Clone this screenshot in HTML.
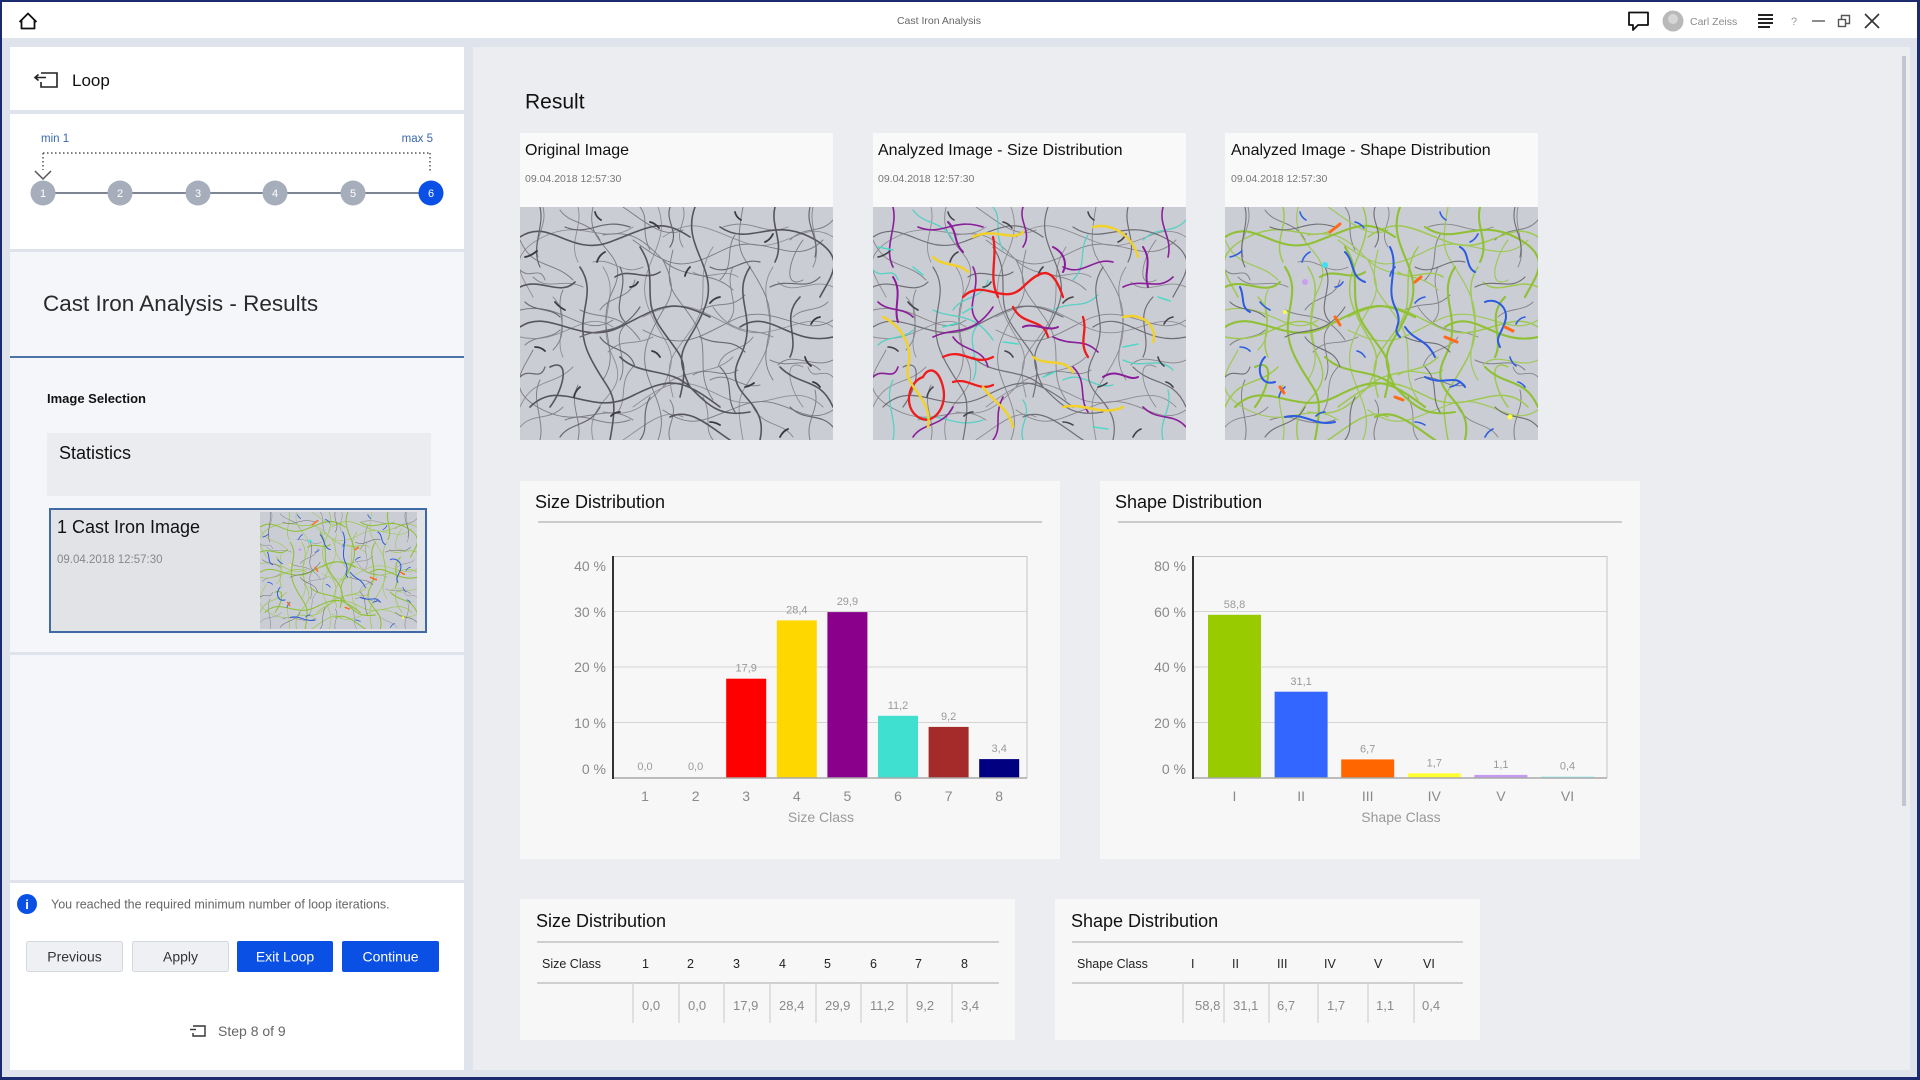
<!DOCTYPE html>
<html>
<head>
<meta charset="utf-8">
<style>
html,body{margin:0;padding:0;width:1920px;height:1080px;overflow:hidden;background:#dfe4ec;}
svg{display:block;}
</style>
</head>
<body>
<svg width="1920" height="1080" viewBox="0 0 1920 1080" xmlns="http://www.w3.org/2000/svg" font-family="'Liberation Sans', sans-serif">
<defs>
<g id="netA" fill="none" stroke-linecap="round">
<path d="M0 30 C30 10 50 50 90 35 S140 10 170 30"/>
<path d="M175 0 C160 40 200 60 185 100 S150 140 170 180"/>
<path d="M0 120 C30 100 60 140 100 120 S150 90 190 110"/>
<path d="M200 20 C230 40 250 10 290 30 S310 70 300 90"/>
<path d="M10 200 C40 170 70 210 110 190 S160 170 200 200"/>
<path d="M220 120 C250 100 270 140 313 130"/>
<path d="M60 60 C80 90 50 110 70 150 S100 180 90 233"/>
<path d="M120 40 C140 70 120 90 140 120 S170 150 160 190"/>
<path d="M230 60 C210 90 240 110 220 150 S250 190 240 233"/>
<path d="M260 160 C280 180 300 170 313 200"/>
<path d="M0 80 C20 70 40 90 55 75"/>
<path d="M100 150 C120 170 150 160 170 180 S200 210 230 205"/>
<path d="M280 90 C260 110 280 130 270 150"/>
<path d="M30 160 C50 150 45 180 30 200"/>
<path d="M150 210 C170 200 190 220 210 233"/>
<path d="M255 0 C250 20 265 35 255 55"/>
<path d="M95 70 C110 60 125 75 140 65"/>
</g>
<g id="netB" fill="none" stroke-linecap="round">
<path d="M20 0 C25 20 10 40 20 60"/>
<path d="M45 20 C70 30 80 10 110 20"/>
<path d="M100 60 C110 80 90 100 105 115"/>
<path d="M190 60 C210 70 220 50 240 55"/>
<path d="M250 80 C270 70 285 85 300 70"/>
<path d="M120 100 C100 130 80 120 60 130"/>
<path d="M180 130 C200 140 210 130 225 145"/>
<path d="M270 200 C285 215 300 205 313 220"/>
<path d="M40 230 C50 215 70 220 80 200"/>
<path d="M130 190 C120 210 130 220 120 233"/>
<path d="M200 160 C215 175 205 190 215 205"/>
<path d="M290 0 C285 20 300 30 295 50"/>
<path d="M0 170 C10 160 20 175 25 160"/>
<path d="M150 0 C145 15 160 25 150 40"/>
<path d="M80 130 C90 145 110 140 115 160"/>
<path d="M5 95 C15 105 30 100 40 110"/>
</g>
<g id="netC" fill="none" stroke-linecap="round">
<path d="M5 50 q6 -1 12 -6 M35 95 q4 5 10 8 M85 45 q-6 3 -8 10 M130 15 q5 1 9 6 M200 90 q-6 1 -10 6 M245 35 q5 -2 8 -8 M300 110 q-6 1 -9 7 M15 140 q6 0 10 4 M60 180 q-5 4 -6 10 M110 80 q5 0 8 -5 M170 60 q-4 4 -5 9 M225 180 q5 -1 9 -4 M285 150 q1 5 6 9 M140 150 q-3 -5 -8 -6 M190 215 q5 0 10 3 M75 5 q1 5 6 8 M260 230 q3 -6 8 -8 M100 205 q-5 0 -9 4 M215 5 q1 5 6 8 M300 180 q-3 -4 -7 -5"/>
</g>
<symbol id="imgO" viewBox="0 0 313 233" preserveAspectRatio="none">
<rect width="313" height="233" fill="#cbcdd4"/>
<use href="#netA" stroke="#8e8e94" stroke-width="0.9" transform="translate(313,0) scale(-1,1)"/>
<use href="#netB" stroke="#808086" stroke-width="1" transform="translate(0,233) scale(1,-1)"/>
<use href="#netA" stroke="#7a7a80" stroke-width="0.9" transform="translate(313,233) scale(-1,-1)"/>
<use href="#netB" stroke="#858589" stroke-width="0.9" transform="translate(313,0) scale(-1,1)"/>
<use href="#netA" stroke="#55555a" stroke-width="1.6"/>
<use href="#netB" stroke="#66666b" stroke-width="1.2"/>
<use href="#netC" stroke="#3a3a3e" stroke-width="1.8"/>
</symbol>
<symbol id="imgSz" viewBox="0 0 313 233" preserveAspectRatio="none">
<rect width="313" height="233" fill="#cbcdd4"/>
<use href="#netA" stroke="#8e8e94" stroke-width="0.9" transform="translate(313,0) scale(-1,1)"/>
<use href="#netA" stroke="#85858a" stroke-width="0.9" transform="translate(313,233) scale(-1,-1)"/>
<use href="#netB" stroke="#58d0c4" stroke-width="1.3" transform="translate(0,233) scale(1,-1)"/>
<use href="#netA" stroke="#6e6e74" stroke-width="1.2"/>
<use href="#netB" stroke="#8a1f9a" stroke-width="1.6"/>
<use href="#netC" stroke="#444448" stroke-width="1.6"/>
<g fill="none" stroke="#ee1c1c" stroke-width="2.3" stroke-linecap="round">
<path d="M90 90 C110 70 130 100 150 80 S180 60 190 90"/>
<path d="M120 30 C125 50 115 70 125 90"/>
<path d="M140 100 C150 120 170 110 175 130"/>
<path d="M50 170 C35 175 30 200 45 210 S75 200 70 180 S55 160 50 170"/>
<path d="M210 110 C215 125 205 135 215 150"/>
<path d="M70 150 C90 140 100 160 120 150"/>
<path d="M80 175 C95 170 105 185 120 178"/>
</g>
<g fill="none" stroke="#f2d22a" stroke-width="2.5" stroke-linecap="round">
<path d="M10 110 C30 120 40 140 35 160 S60 190 55 220"/>
<path d="M100 30 C120 20 140 35 150 25"/>
<path d="M220 20 C240 15 260 30 265 50"/>
<path d="M250 110 C270 105 285 120 280 135"/>
<path d="M190 200 C210 195 230 210 250 200"/>
<path d="M110 180 C120 195 135 200 140 220"/>
<path d="M160 150 C175 160 190 150 200 165"/>
<path d="M60 50 C70 60 85 55 95 65"/>
</g>
<g fill="none" stroke="#8b1b9b" stroke-width="2" stroke-linecap="round">
<path d="M20 70 C30 85 20 100 25 115"/>
<path d="M150 120 C160 115 175 125 185 120"/>
<path d="M230 170 C245 160 255 175 265 170"/>
<path d="M270 40 C280 55 270 65 275 80"/>
<path d="M75 15 C85 25 80 35 90 45"/>
<path d="M180 40 C190 45 195 55 190 65"/>
</g>
<g fill="none" stroke="#4fd8c8" stroke-width="1.6" stroke-linecap="round">
<path d="M5 40 l15 3 M70 120 l15 -4 M250 140 l15 -3 M130 135 l15 2 M220 220 l15 2 M285 90 l12 4 M40 60 l10 8 M170 170 l12 -5 M100 100 l-10 6"/>
</g>
</symbol>
<symbol id="imgSh" viewBox="0 0 313 233" preserveAspectRatio="none">
<rect width="313" height="233" fill="#cbcdd4"/>
<use href="#netB" stroke="#808086" stroke-width="1" transform="translate(0,233) scale(1,-1)"/>
<use href="#netB" stroke="#858589" stroke-width="0.9" transform="translate(313,0) scale(-1,1)"/>
<use href="#netA" stroke="#9ec850" stroke-width="1.5" transform="translate(313,0) scale(-1,1)"/>
<use href="#netA" stroke="#a0c85a" stroke-width="1.2" transform="translate(313,233) scale(-1,-1)"/>
<use href="#netA" stroke="#8fc035" stroke-width="2.1"/>
<use href="#netB" stroke="#6e6e74" stroke-width="1.1"/>
<use href="#netC" stroke="#2f5fe0" stroke-width="1.6"/>
<g fill="none" stroke="#2a5be0" stroke-width="2" stroke-linecap="round">
<path d="M120 45 C130 55 125 70 140 75"/>
<path d="M165 40 C175 60 160 80 170 100 S165 120 175 130"/>
<path d="M260 95 C270 90 285 100 280 115 S270 130 275 140"/>
<path d="M40 150 C30 160 35 180 50 175"/>
<path d="M180 120 C190 135 200 130 210 150"/>
<path d="M200 170 C220 180 230 165 240 180"/>
<path d="M60 210 C80 205 90 220 110 215"/>
<path d="M15 80 C20 90 15 100 25 105"/>
<path d="M235 40 C245 45 240 60 250 65"/>
</g>
<g fill="none" stroke="#ff6a1a" stroke-width="3" stroke-linecap="round">
<path d="M105 25 l10 -8 M220 130 l12 5 M110 110 l5 8 M280 120 l8 4 M55 180 l4 6 M190 75 l6 -5 M170 190 l8 3"/>
</g>
<circle cx="100" cy="58" r="3" fill="#3fe0f0"/>
<circle cx="80" cy="75" r="3" fill="#c7a0f0"/>
<circle cx="60" cy="105" r="2" fill="#ffff40"/>
<circle cx="285" cy="210" r="2.5" fill="#ffff40"/>
</symbol>
</defs>

<!-- window frame -->
<rect x="0" y="0" width="1920" height="1080" fill="#1c2b6e"/>
<rect x="2" y="2" width="1915" height="1075" fill="#dfe4ec"/>
<rect x="2" y="2" width="1915" height="36" fill="#ffffff"/>

<!-- header -->
<path d="M19.5 22 L28 13.5 L36.5 22 M21.5 20 V28.5 H34.5 V20" fill="none" stroke="#111" stroke-width="1.8" stroke-linejoin="round"/>
<text x="939" y="24" text-anchor="middle" font-size="10.5" fill="#666">Cast Iron Analysis</text>
<path d="M1629 12.5 H1648 V25 H1638 L1633 30 V25 H1629 Z" fill="none" stroke="#111" stroke-width="1.8" stroke-linejoin="round"/>
<circle cx="1673" cy="21" r="10.5" fill="#b9b9b9"/>
<circle cx="1673" cy="19" r="5" fill="#d6d6d6"/>
<text x="1690" y="25" font-size="10.5" fill="#8a8a8a">Carl Zeiss</text>
<path d="M1758 15 H1773 M1758 19 H1773 M1758 23 H1773 M1758 27 H1770" stroke="#222" stroke-width="2"/>
<text x="1791" y="25" font-size="11" fill="#999">?</text>
<path d="M1812 21 H1825" stroke="#666" stroke-width="1.5"/>
<rect x="1838.5" y="19.5" width="7" height="7" fill="none" stroke="#555" stroke-width="1.4"/>
<path d="M1841.5 19.5 V15.5 H1849.5 V23.5 H1845.5" fill="none" stroke="#555" stroke-width="1.4"/>
<path d="M1865 14 L1879 28 M1879 14 L1865 28" stroke="#333" stroke-width="1.6"/>

<!-- left panel -->
<rect x="10" y="47" width="454" height="63" fill="#ffffff"/>
<path d="M41 73 H57 V87 H41 V82" fill="none" stroke="#222" stroke-width="1.6"/>
<path d="M35 77.5 H46 M38.5 74.5 L35 77.5 L38.5 80.5" fill="none" stroke="#222" stroke-width="1.6"/>
<text x="72" y="86" font-size="17" fill="#111">Loop</text>

<rect x="10" y="114" width="454" height="135" fill="#ffffff"/>
<g transform="translate(10,114)">
<text x="31" y="28" font-size="11.5" fill="#3a68ad">min 1</text>
<text x="423" y="28" font-size="11.5" fill="#3a68ad" text-anchor="end">max 5</text>
<path d="M33 39 H420 M33 39 V56 M420 39 V58" fill="none" stroke="#555" stroke-width="1.5" stroke-dasharray="1.5 2.5"/>
<path d="M25 57 L33 65 L41 57" fill="none" stroke="#555" stroke-width="1.5"/>
<path d="M33 79 H421" stroke="#7d8593" stroke-width="2"/>
<circle cx="33" cy="79" r="12.5" fill="#a6aebb"/>
<circle cx="110" cy="79" r="12.5" fill="#a6aebb"/>
<circle cx="188" cy="79" r="12.5" fill="#a6aebb"/>
<circle cx="265" cy="79" r="12.5" fill="#a6aebb"/>
<circle cx="343" cy="79" r="12.5" fill="#a6aebb"/>
<circle cx="421" cy="79" r="12.5" fill="#0a4fe6"/>
<g font-size="11" fill="#fff" text-anchor="middle">
<text x="33" y="83">1</text><text x="110" y="83">2</text><text x="188" y="83">3</text><text x="265" y="83">4</text><text x="343" y="83">5</text><text x="421" y="83">6</text>
</g>
</g>

<rect x="10" y="252" width="454" height="104" fill="#f4f6f9"/>
<text x="43" y="311" font-size="22.5" fill="#2a2a2a">Cast Iron Analysis - Results</text>
<rect x="10" y="356" width="454" height="2" fill="#4d75aa"/>
<rect x="10" y="358" width="454" height="294" fill="#f4f6f9"/>
<text x="47" y="403" font-size="13" font-weight="bold" fill="#111">Image Selection</text>
<rect x="47" y="433" width="384" height="63" fill="#eaecf0"/>
<text x="59" y="459" font-size="18" fill="#111">Statistics</text>
<rect x="50" y="509" width="376" height="123" fill="#e1e3e7" stroke="#3f6aa5" stroke-width="2"/>
<text x="57" y="533" font-size="18" fill="#111">1 Cast Iron Image</text>
<text x="57" y="563" font-size="11.5" fill="#888">09.04.2018 12:57:30</text>
<use href="#imgSh" x="260" y="512" width="157" height="117"/>

<rect x="10" y="655" width="454" height="225" fill="#f4f6f9"/>
<rect x="10" y="883" width="454" height="187" fill="#ffffff"/>
<circle cx="27" cy="904" r="10" fill="#0b50e5"/>
<text x="27" y="909" font-size="13" font-weight="bold" fill="#fff" text-anchor="middle">i</text>
<text x="51" y="908.5" font-size="12.5" fill="#666">You reached the required minimum number of loop iterations.</text>
<rect x="26.5" y="941.5" width="96" height="30" rx="2" fill="#eef0f4" stroke="#d3d7de"/>
<text x="74.5" y="961.5" font-size="14" fill="#333" text-anchor="middle">Previous</text>
<rect x="132.5" y="941.5" width="96" height="30" rx="2" fill="#eef0f4" stroke="#d3d7de"/>
<text x="180.5" y="961.5" font-size="14" fill="#333" text-anchor="middle">Apply</text>
<rect x="237" y="941" width="96" height="31" rx="2" fill="#0b50e5"/>
<text x="285" y="961.5" font-size="14" fill="#fff" text-anchor="middle">Exit Loop</text>
<rect x="342" y="941" width="97" height="31" rx="2" fill="#0b50e5"/>
<text x="390.5" y="961.5" font-size="14" fill="#fff" text-anchor="middle">Continue</text>
<path d="M193 1026 H205 V1036 H193 V1033" fill="none" stroke="#333" stroke-width="1.4"/>
<path d="M190 1029.5 H196" stroke="#333" stroke-width="1.4"/>
<text x="218" y="1036" font-size="14" fill="#666">Step 8 of 9</text>

<!-- main area -->
<rect x="473" y="47" width="1437" height="1023" fill="#ecedf0"/>
<rect x="1902" y="56" width="4" height="750" fill="#c2c6ce"/>
<text x="525" y="108.5" font-size="21" fill="#111">Result</text>

<!-- image cards -->
<rect x="520" y="133" width="313" height="74" fill="#f9f9fa"/>
<text x="525" y="155" font-size="16" fill="#111">Original Image</text>
<text x="525" y="182" font-size="10.5" fill="#777">09.04.2018 12:57:30</text>
<use href="#imgO" x="520" y="207" width="313" height="233"/>

<rect x="873" y="133" width="313" height="74" fill="#f9f9fa"/>
<text x="878" y="155" font-size="16" fill="#111">Analyzed Image - Size Distribution</text>
<text x="878" y="182" font-size="10.5" fill="#777">09.04.2018 12:57:30</text>
<use href="#imgSz" x="873" y="207" width="313" height="233"/>

<rect x="1225" y="133" width="313" height="74" fill="#f9f9fa"/>
<text x="1231" y="155" font-size="16" fill="#111">Analyzed Image - Shape Distribution</text>
<text x="1231" y="182" font-size="10.5" fill="#777">09.04.2018 12:57:30</text>
<use href="#imgSh" x="1225" y="207" width="313" height="233"/>

<!-- Size distribution chart -->
<g transform="translate(520,481)">
<rect x="0" y="0" width="540" height="378" fill="#f7f7f8"/>
<text x="15" y="27" font-size="18" fill="#111">Size Distribution</text>
<line x1="18" y1="41" x2="522" y2="41" stroke="#cbcbcb" stroke-width="2"/>
<g stroke="#d4d4d4" stroke-width="1">
<line x1="93" y1="75.5" x2="507" y2="75.5" stroke="#c4c4c4"/>
<line x1="93" y1="130.5" x2="507" y2="130.5"/>
<line x1="93" y1="186" x2="507" y2="186"/>
<line x1="93" y1="241.5" x2="507" y2="241.5"/>
<line x1="507" y1="75" x2="507" y2="297" stroke="#c4c4c4"/>
</g>
<rect x="206.2" y="197.7" width="40" height="99.3" fill="#ff0000"/>
<rect x="256.8" y="139.4" width="40" height="157.6" fill="#ffd700"/>
<rect x="307.4" y="131.1" width="40" height="165.9" fill="#8b008b"/>
<rect x="358" y="234.8" width="40" height="62.2" fill="#40e0d0"/>
<rect x="408.6" y="245.9" width="40" height="51.1" fill="#a52a2a"/>
<rect x="459.2" y="278.1" width="40" height="18.9" fill="#000080"/>
<line x1="93" y1="297" x2="507" y2="297" stroke="#a8a8a8" stroke-width="1.5"/>
<line x1="93" y1="75" x2="93" y2="298" stroke="#333" stroke-width="2"/>
<g font-size="14" fill="#8a8a8a" text-anchor="end">
<text x="86" y="90">40 %</text><text x="86" y="136">30 %</text><text x="86" y="191">20 %</text><text x="86" y="247">10 %</text><text x="86" y="293">0 %</text>
</g>
<g font-size="11" fill="#9a9a9a" text-anchor="middle">
<text x="125" y="289">0,0</text><text x="175.6" y="289">0,0</text>
<text x="226.2" y="190.5">17,9</text><text x="276.8" y="132.5">28,4</text><text x="327.4" y="124">29,9</text>
<text x="378" y="228">11,2</text><text x="428.6" y="239">9,2</text><text x="479.2" y="271">3,4</text>
</g>
<g font-size="14" fill="#8a8a8a" text-anchor="middle">
<text x="125" y="320">1</text><text x="175.6" y="320">2</text><text x="226.2" y="320">3</text><text x="276.8" y="320">4</text><text x="327.4" y="320">5</text><text x="378" y="320">6</text><text x="428.6" y="320">7</text><text x="479.2" y="320">8</text>
<text x="301" y="341" fill="#999">Size Class</text>
</g>
</g>

<!-- Shape distribution chart -->
<g transform="translate(1100,481)">
<rect x="0" y="0" width="540" height="378" fill="#f7f7f8"/>
<text x="15" y="27" font-size="18" fill="#111">Shape Distribution</text>
<line x1="18" y1="41" x2="522" y2="41" stroke="#cbcbcb" stroke-width="2"/>
<g stroke="#d4d4d4" stroke-width="1">
<line x1="93" y1="75.5" x2="507" y2="75.5" stroke="#c4c4c4"/>
<line x1="93" y1="130.5" x2="507" y2="130.5"/>
<line x1="93" y1="186" x2="507" y2="186"/>
<line x1="93" y1="241.5" x2="507" y2="241.5"/>
<line x1="507" y1="75" x2="507" y2="297" stroke="#c4c4c4"/>
</g>
<rect x="108" y="133.8" width="53" height="163.2" fill="#99cc00"/>
<rect x="174.6" y="210.7" width="53" height="86.3" fill="#3366ff"/>
<rect x="241.2" y="278.4" width="53" height="18.6" fill="#ff6600"/>
<rect x="307.8" y="292.3" width="53" height="4.7" fill="#ffff33"/>
<rect x="374.4" y="293.9" width="53" height="3.1" fill="#c49af2"/>
<rect x="441" y="295.5" width="53" height="1.5" fill="#9ff0f0"/>
<line x1="93" y1="297" x2="507" y2="297" stroke="#a8a8a8" stroke-width="1.5"/>
<line x1="93" y1="75" x2="93" y2="298" stroke="#333" stroke-width="2"/>
<g font-size="14" fill="#8a8a8a" text-anchor="end">
<text x="86" y="90">80 %</text><text x="86" y="136">60 %</text><text x="86" y="191">40 %</text><text x="86" y="247">20 %</text><text x="86" y="293">0 %</text>
</g>
<g font-size="11" fill="#9a9a9a" text-anchor="middle">
<text x="134.5" y="127">58,8</text><text x="201.1" y="204">31,1</text><text x="267.7" y="271.5">6,7</text>
<text x="334.3" y="285.5">1,7</text><text x="400.9" y="287">1,1</text><text x="467.5" y="288.5">0,4</text>
</g>
<g font-size="14" fill="#8a8a8a" text-anchor="middle">
<text x="134.5" y="320">I</text><text x="201.1" y="320">II</text><text x="267.7" y="320">III</text><text x="334.3" y="320">IV</text><text x="400.9" y="320">V</text><text x="467.5" y="320">VI</text>
<text x="301" y="341" fill="#999">Shape Class</text>
</g>
</g>

<!-- Size table -->
<g transform="translate(520,899)">
<rect x="0" y="0" width="495" height="141" fill="#f7f7f8"/>
<text x="16" y="28" font-size="18" fill="#111">Size Distribution</text>
<line x1="17" y1="43" x2="479" y2="43" stroke="#cfcfcf" stroke-width="2"/>
<g font-size="12.5" fill="#222">
<text x="22" y="69">Size Class</text>
<text x="122" y="69">1</text><text x="167" y="69">2</text><text x="213" y="69">3</text><text x="259" y="69">4</text><text x="304" y="69">5</text><text x="350" y="69">6</text><text x="395" y="69">7</text><text x="441" y="69">8</text>
</g>
<line x1="17" y1="84" x2="479" y2="84" stroke="#cfcfcf" stroke-width="2"/>
<g stroke="#d8d8d8" stroke-width="1.5">
<line x1="113" y1="84" x2="113" y2="124"/><line x1="159" y1="84" x2="159" y2="124"/><line x1="204" y1="84" x2="204" y2="124"/><line x1="250" y1="84" x2="250" y2="124"/><line x1="296" y1="84" x2="296" y2="124"/><line x1="341" y1="84" x2="341" y2="124"/><line x1="387" y1="84" x2="387" y2="124"/><line x1="432" y1="84" x2="432" y2="124"/>
</g>
<g font-size="13" fill="#8a8a8a">
<text x="122" y="111">0,0</text><text x="168" y="111">0,0</text><text x="213" y="111">17,9</text><text x="259" y="111">28,4</text><text x="305" y="111">29,9</text><text x="350" y="111">11,2</text><text x="396" y="111">9,2</text><text x="441" y="111">3,4</text>
</g>
</g>

<!-- Shape table -->
<g transform="translate(1055,899)">
<rect x="0" y="0" width="425" height="141" fill="#f7f7f8"/>
<text x="16" y="28" font-size="18" fill="#111">Shape Distribution</text>
<line x1="17" y1="43" x2="408" y2="43" stroke="#cfcfcf" stroke-width="2"/>
<g font-size="12.5" fill="#222">
<text x="22" y="69">Shape Class</text>
<text x="136" y="69">I</text><text x="177" y="69">II</text><text x="222" y="69">III</text><text x="269" y="69">IV</text><text x="319" y="69">V</text><text x="368" y="69">VI</text>
</g>
<line x1="17" y1="84" x2="408" y2="84" stroke="#cfcfcf" stroke-width="2"/>
<g stroke="#d8d8d8" stroke-width="1.5">
<line x1="128" y1="84" x2="128" y2="124"/><line x1="169" y1="84" x2="169" y2="124"/><line x1="214" y1="84" x2="214" y2="124"/><line x1="263" y1="84" x2="263" y2="124"/><line x1="313" y1="84" x2="313" y2="124"/><line x1="359" y1="84" x2="359" y2="124"/>
</g>
<g font-size="13" fill="#8a8a8a">
<text x="140" y="111">58,8</text><text x="178" y="111">31,1</text><text x="222" y="111">6,7</text><text x="272" y="111">1,7</text><text x="321" y="111">1,1</text><text x="367" y="111">0,4</text>
</g>
</g>
</svg>
</body>
</html>
